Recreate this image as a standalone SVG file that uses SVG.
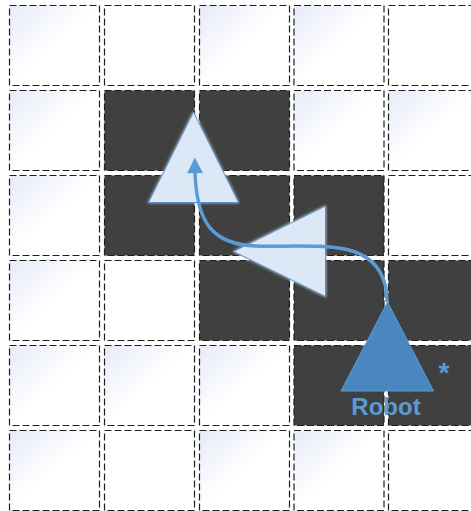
<svg xmlns="http://www.w3.org/2000/svg" width="471" height="511" viewBox="0 0 471 511">
<defs>
<linearGradient id="g" x1="0" y1="0" x2="1" y2="1">
<stop offset="0" stop-color="#e6ebf8"/>
<stop offset="0.5" stop-color="#ffffff"/>
<stop offset="1" stop-color="#ffffff"/>
</linearGradient>
<filter id="glow" x="-20%" y="-20%" width="140%" height="140%">
<feDropShadow dx="0" dy="0" stdDeviation="1.8" flood-color="#bcd3ee" flood-opacity="0.9"/>
</filter>
<marker id="ah" viewBox="0 0 10 10" refX="2" refY="5" markerWidth="5" markerHeight="4.5" orient="auto" markerUnits="strokeWidth">
<path d="M0,0 L10,5 L0,10 z" fill="#5b9bd5"/>
</marker>
<style>
.c{stroke:#1e1e1e;stroke-width:1.2;stroke-dasharray:7 3}
.w{fill:#ffffff}
.l{fill:url(#g)}
.d{fill:#404040}
.tri{fill:#dce8f5;stroke:#5b8fc8;stroke-width:1;filter:url(#glow)}
.robot{fill:#4a86c0;stroke:#5b9bd5;stroke-width:1}
.lbl{font-family:"Liberation Sans",Arial,sans-serif;font-weight:bold;fill:#5b9bd5}
</style>
</defs>
<rect width="471" height="511" fill="#ffffff"/>
<g id="grid">
<rect class="c l" x="9.5" y="5.5" width="90" height="80"/>
<rect class="c w" x="104.5" y="5.5" width="90" height="80"/>
<rect class="c l" x="199.5" y="5.5" width="90" height="80"/>
<rect class="c l" x="294" y="5.5" width="90" height="80"/>
<rect class="c w" x="388.5" y="5.5" width="90" height="80"/>

<rect class="c l" x="9.5" y="90.5" width="90" height="80"/>
<rect class="c d" x="104.5" y="90.5" width="90" height="80"/>
<rect class="c d" x="199.5" y="90.5" width="90" height="80"/>
<rect class="c l" x="294" y="90.5" width="90" height="80"/>
<rect class="c l" x="388.5" y="90.5" width="90" height="80"/>

<rect class="c l" x="9.5" y="175.5" width="90" height="80"/>
<rect class="c d" x="104.5" y="175.5" width="90" height="80"/>
<rect class="c d" x="199.5" y="175.5" width="90" height="80"/>
<rect class="c d" x="294" y="175.5" width="90" height="80"/>
<rect class="c w" x="388.5" y="175.5" width="90" height="80"/>

<rect class="c l" x="9.5" y="260.5" width="90" height="80"/>
<rect class="c w" x="104.5" y="260.5" width="90" height="80"/>
<rect class="c d" x="199.5" y="260.5" width="90" height="80"/>
<rect class="c d" x="294" y="260.5" width="90" height="80"/>
<rect class="c d" x="388.5" y="260.5" width="90" height="80"/>

<rect class="c l" x="9.5" y="345.5" width="90" height="80"/>
<rect class="c l" x="104.5" y="345.5" width="90" height="80"/>
<rect class="c l" x="199.5" y="345.5" width="90" height="80"/>
<rect class="c d" x="294" y="345.5" width="90" height="80"/>
<rect class="c d" x="388.5" y="345.5" width="90" height="80"/>

<rect class="c l" x="9.5" y="430.5" width="90" height="80"/>
<rect class="c w" x="104.5" y="430.5" width="90" height="80"/>
<rect class="c l" x="199.5" y="430.5" width="90" height="80"/>
<rect class="c l" x="294" y="430.5" width="90" height="80"/>
<rect class="c w" x="388.5" y="430.5" width="90" height="80"/>
</g>
<g id="pose-up">
<polygon class="tri" points="193.5,112 148.5,202.5 238.5,202.5"/>
</g>
<g id="pose-left">
<polygon class="tri" points="233.5,251.5 325.5,206 325.5,296.5"/>
</g>
<g id="connectors">
<path d="M387,302 C387,272 372,250 330,247 C300,245 275,247 255,246 C215,244 196,226 195,170" fill="none" stroke="#5b9bd5" stroke-width="3.5" marker-end="url(#ah)"/>
</g>
<g id="robot">
<polygon class="robot" points="387.5,302 341,391 433.5,391"/>
<text class="lbl" x="386" y="415" font-size="24" text-anchor="middle">Robot</text>
<text class="lbl" x="444" y="382" font-size="28" text-anchor="middle">*</text>
</g>
</svg>
